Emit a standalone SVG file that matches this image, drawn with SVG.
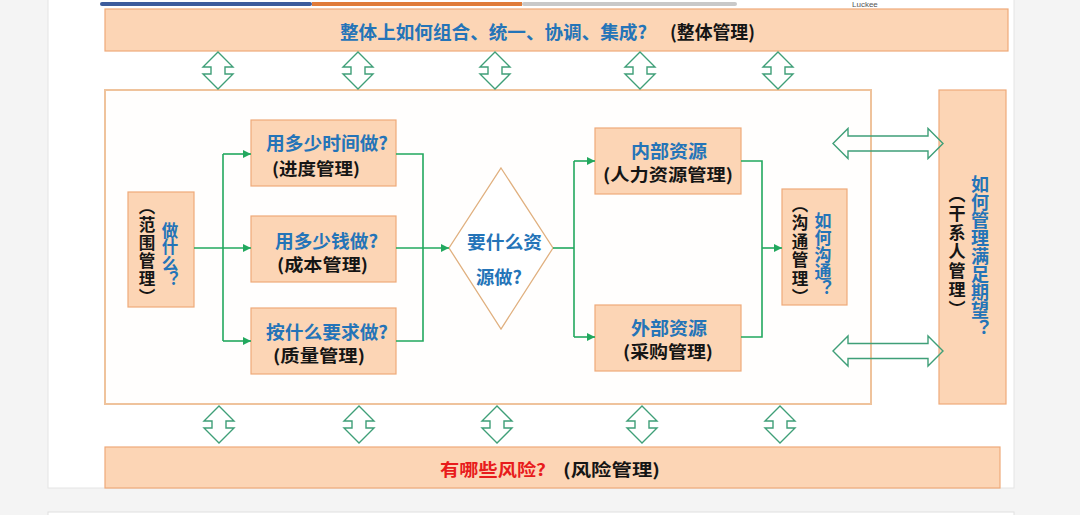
<svg xmlns="http://www.w3.org/2000/svg" width="1080" height="515" viewBox="0 0 1080 515">
<style>
.box{fill:#fcd5b5;stroke:#eeaa7a;stroke-width:1.2}
.frame{fill:#fffefd;stroke:#efc39c;stroke-width:2}
.conn{fill:none;stroke:#22a85e;stroke-width:1.6}
.hollow{fill:none;stroke:#3f9f78;stroke-width:1.4;stroke-linejoin:miter}
.t{font-family:"Noto Sans CJK SC","Liberation Sans",sans-serif;font-weight:bold;dominant-baseline:central}
.b{fill:#2474b8}
.k{fill:#151515}
.r{fill:#e81c1c}
.v{writing-mode:vertical-rl}
</style>
<defs>
<marker id="ah" viewBox="0 0 10 10" refX="10" refY="5" markerWidth="8" markerHeight="8" markerUnits="userSpaceOnUse" orient="auto">
<path d="M0,0 L10,5 L0,10 Z" fill="#22a85e"/>
</marker>
<path id="va" class="hollow" d="M0,0 L15,15 L7,15 L7,22 L15,22 L0,37 L-15,22 L-7,22 L-7,15 L-15,15 Z"/>
<path id="ha" class="hollow" d="M0,0 L15,-15 L15,-7.5 L95,-7.5 L95,-15 L110,0 L95,15 L95,7.5 L15,7.5 L15,15 Z"/>
</defs>
<rect x="0" y="0" width="1080" height="515" fill="#f4f4f4"/>
<rect x="48" y="-2" width="966" height="490" fill="#ffffff" stroke="#e4e4e4" stroke-width="1"/>
<rect x="48" y="512" width="966" height="10" fill="#ffffff" stroke="#e0e0e0" stroke-width="1"/>
<g id="progress">
<rect x="100" y="2" width="212" height="4" rx="2" fill="#3d5c9c"/>
<rect x="312" y="2" width="210" height="4" fill="#e07b39"/>
<rect x="522" y="2" width="215" height="4" rx="2" fill="#c9c9c9"/>
<text x="852" y="4" font-family="Liberation Sans,sans-serif" font-size="8" fill="#555" dominant-baseline="central">Luckee</text>
</g>
<g id="integration">
<rect class="box" x="105" y="9" width="903" height="42"/>
<text class="t b" x="340" y="31" font-size="18" textLength="307" lengthAdjust="spacingAndGlyphs">整体上如何组合、统一、协调、集成?</text>
<text class="t k" x="670" y="31" font-size="18" textLength="85" lengthAdjust="spacingAndGlyphs">(整体管理)</text>
</g>
<g id="frame">
<rect class="frame" x="105" y="90" width="766" height="314"/>
</g>
<g id="risk">
<rect class="box" x="105" y="447" width="895" height="41"/>
<text class="t r" x="440" y="468" font-size="17" textLength="106" lengthAdjust="spacingAndGlyphs">有哪些风险?</text>
<text class="t k" x="563" y="468" font-size="17" textLength="97" lengthAdjust="spacingAndGlyphs">(风险管理)</text>
</g>
<g id="stakeholder">
<rect class="box" x="939" y="90" width="67" height="314"/>
<text class="t b v" x="980" y="175" font-size="18">如何管理满足期望？</text>
<text class="t k v" x="957" y="186" font-size="17" letter-spacing="2">（干系人管理）</text>
</g>
<g id="scope">
<rect class="box" x="128" y="192" width="66" height="115"/>
<text class="t b v" x="170" y="222" font-size="16.5">做什么？</text>
<text class="t k v" x="147" y="198" font-size="16.5" letter-spacing="1.5">（范围管理）</text>
</g>
<g id="schedule">
<rect class="box" x="251" y="120" width="145" height="66"/>
<text class="t b" x="266" y="142" font-size="18" textLength="122" lengthAdjust="spacingAndGlyphs">用多少时间做?</text>
<text class="t k" x="272" y="167" font-size="17" textLength="88" lengthAdjust="spacingAndGlyphs">(进度管理)</text>
</g>
<g id="cost">
<rect class="box" x="251" y="216" width="145" height="66"/>
<text class="t b" x="275" y="240" font-size="18" textLength="103" lengthAdjust="spacingAndGlyphs">用多少钱做?</text>
<text class="t k" x="277" y="263" font-size="17" textLength="91" lengthAdjust="spacingAndGlyphs">(成本管理)</text>
</g>
<g id="quality">
<rect class="box" x="251" y="308" width="145" height="66"/>
<text class="t b" x="266" y="331" font-size="18" textLength="122" lengthAdjust="spacingAndGlyphs">按什么要求做?</text>
<text class="t k" x="273" y="354" font-size="17" textLength="92" lengthAdjust="spacingAndGlyphs">(质量管理)</text>
</g>
<g id="resource">
<path d="M501,168 L553,248 L501,329 L449,248 Z" fill="#ffffff" stroke="#e0b07f" stroke-width="1.3"/>
<text class="t b" x="467" y="241" font-size="18" textLength="75" lengthAdjust="spacingAndGlyphs">要什么资</text>
<text class="t b" x="476" y="276" font-size="18" textLength="46" lengthAdjust="spacingAndGlyphs">源做?</text>
</g>
<g id="internal">
<rect class="box" x="595" y="128" width="146" height="66"/>
<text class="t b" x="631" y="150" font-size="18" textLength="76" lengthAdjust="spacingAndGlyphs">内部资源</text>
<text class="t k" x="603" y="173" font-size="17" textLength="130" lengthAdjust="spacingAndGlyphs">(人力资源管理)</text>
</g>
<g id="external">
<rect class="box" x="595" y="305" width="146" height="66"/>
<text class="t b" x="631" y="327" font-size="18" textLength="76" lengthAdjust="spacingAndGlyphs">外部资源</text>
<text class="t k" x="623" y="350" font-size="17" textLength="90" lengthAdjust="spacingAndGlyphs">(采购管理)</text>
</g>
<g id="communication">
<rect class="box" x="782" y="189" width="65" height="116"/>
<text class="t b v" x="823" y="212" font-size="17">如何沟通？</text>
<text class="t k v" x="800" y="196" font-size="16.5" letter-spacing="2">（沟通管理）</text>
</g>
<g id="connectors">
<path class="conn" d="M194,248 L251,248" marker-end="url(#ah)"/>
<path class="conn" d="M223,154 L223,341"/>
<path class="conn" d="M223,154 L251,154" marker-end="url(#ah)"/>
<path class="conn" d="M223,341 L251,341" marker-end="url(#ah)"/>
<path class="conn" d="M396,154 L423,154 L423,341 L396,341"/>
<path class="conn" d="M396,248 L449,248" marker-end="url(#ah)"/>
<path class="conn" d="M553,248 L574,248"/>
<path class="conn" d="M574,161 L574,337"/>
<path class="conn" d="M574,161 L595,161" marker-end="url(#ah)"/>
<path class="conn" d="M574,337 L595,337" marker-end="url(#ah)"/>
<path class="conn" d="M741,161 L762,161 L762,337 L741,337"/>
<path class="conn" d="M762,248 L782,248" marker-end="url(#ah)"/>
<use href="#va" x="218" y="52"/>
<use href="#va" x="358" y="52"/>
<use href="#va" x="495" y="52"/>
<use href="#va" x="640" y="52"/>
<use href="#va" x="778" y="52"/>
<use href="#va" x="219" y="406"/>
<use href="#va" x="359" y="406"/>
<use href="#va" x="497" y="406"/>
<use href="#va" x="642" y="406"/>
<use href="#va" x="780" y="406"/>
<use href="#ha" x="833" y="143.5"/>
<use href="#ha" x="833" y="351"/>
</g>
</svg>
